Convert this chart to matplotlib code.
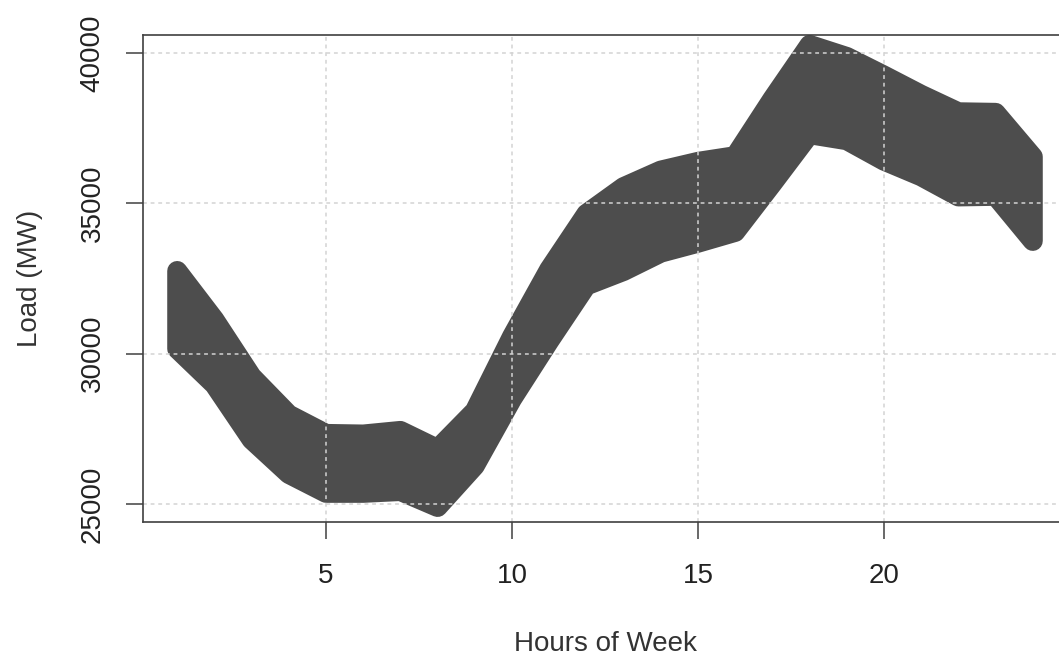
"""Hourly load envelope (min / max band) for a typical week-day profile."""

import matplotlib
matplotlib.use("Agg")
import matplotlib.pyplot as plt
from matplotlib import font_manager


# ---------------------------------------------------------------------------
# Data
# ---------------------------------------------------------------------------
hours = list(range(1, 25))

load_upper = [32750, 31130, 29240, 27970, 27330, 27310, 27430, 26830,
              28090, 30570, 32800, 34650, 35540, 36090, 36380, 36570,
              38470, 40270, 39870, 39250, 38610, 38030, 38010, 36550]

load_lower = [30160, 28970, 27140, 26000, 25370, 25370, 25430, 24900,
              26270, 28490, 30420, 32270, 32750, 33360, 33690, 34050,
              35660, 37300, 37100, 36420, 35900, 35230, 35250, 33750]

x_ticks = [5, 10, 15, 20]
y_ticks = [25000, 30000, 35000, 40000]


# ---------------------------------------------------------------------------
# Fonts
# ---------------------------------------------------------------------------
installed = {f.name for f in font_manager.fontManager.ttflist}
family = [f for f in ["Liberation Sans", "DejaVu Sans"] if f in installed]
plt.rcParams["font.family"] = family


# ---------------------------------------------------------------------------
# Plot
# ---------------------------------------------------------------------------
fig = plt.figure(figsize=(10.59, 6.56), dpi=100)
ax = fig.add_axes([143 / 1059, 1 - 522 / 656, (1067 - 143) / 1059, (522 - 35) / 656])

band_color = "#4d4d4d"
poly_x = hours + hours[::-1]
poly_y = load_upper + load_lower[::-1]
ax.fill(poly_x, poly_y, facecolor=band_color, edgecolor=band_color,
        linewidth=14.4, joinstyle="round", zorder=2)

ax.set_xlim(0.08, 24.92)
ax.set_ylim(24400, 40600)

ax.set_xticks(x_ticks)
ax.set_yticks(y_ticks)
ax.set_yticklabels([str(v) for v in y_ticks], rotation=90, va="center")

ax.grid(True, color="#d3d3d3", linestyle=(0, (2.5, 2.5)), linewidth=1.1, zorder=3)
ax.set_axisbelow(False)

for side in ["left", "right", "top", "bottom"]:
    ax.spines[side].set_color("#404040")
    ax.spines[side].set_linewidth(1.2)
    ax.spines[side].set_zorder(4)

ax.tick_params(axis="both", direction="out", length=12, width=1.1,
               color="#404040", labelcolor="#222222", labelsize=20)
ax.tick_params(axis="x", pad=17.5)
ax.tick_params(axis="y", pad=15)

ax.set_xlabel("Hours of Week", fontsize=20, color="#333333", labelpad=30)
ax.set_ylabel("Load (MW)", fontsize=20, color="#333333", labelpad=26.5)

fig.savefig("out.png", dpi=100)
plt.close(fig)
